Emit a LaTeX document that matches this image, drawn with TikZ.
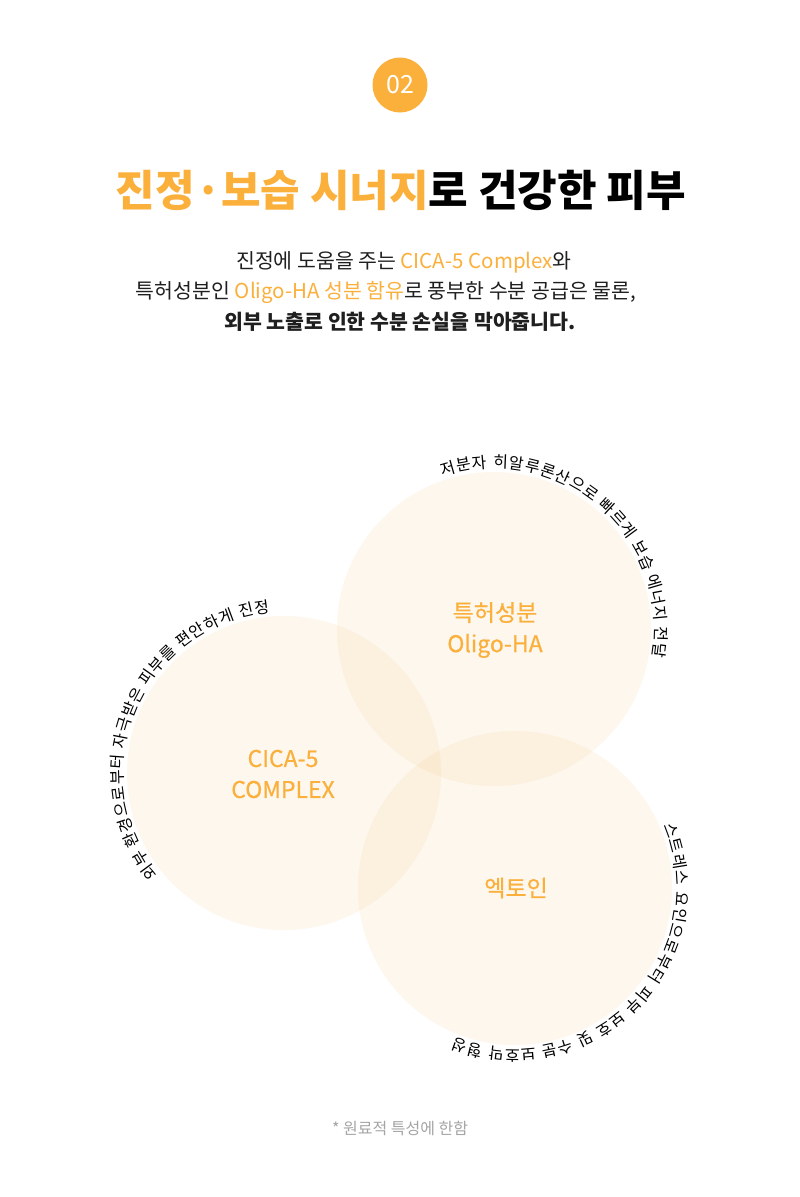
\documentclass[tikz,border=0pt]{standalone}
\usepackage{fontspec}
\setmainfont{Noto Sans CJK KR}
\newfontfamily\tagfont[FakeBold=0.6]{Noto Sans CJK KR}
\usetikzlibrary{positioning, decorations.text}
\definecolor{accent}{RGB}{251,176,59}
\definecolor{blush}{RGB}{248,202,142}
\definecolor{note}{RGB}{165,165,165}
\tikzset{
    blob/.style={circle, fill=blush, fill opacity=0.15, minimum size=314pt, inner sep=0pt},
    badge/.style={circle, fill=accent, minimum size=55pt, inner sep=0pt, text=white, font=\fontsize{25}{25}\selectfont},
    tag/.style={text=accent, align=center, font=\tagfont\fontsize{23}{31}\selectfont},
    body/.style={text=black!88, font=\fontsize{20.5}{22}\selectfont},
    arctext/.style={decorate, decoration={text along path, text align=fit to path, text={|\fontsize{16}{16}\selectfont|#1}}},
}
\begin{document}
\begin{tikzpicture}[x=1pt, y=-1pt]
                    \fill[white] (0,0) rectangle (800,1197);
                    \useasboundingbox (0,0) rectangle (800,1197);
                    \node [badge] (num) at (400,85) {02};
                    \node [font=\bfseries\fontsize{43}{43}\selectfont] (title) at (401,190) {\textcolor{accent}{진정·보습 시너지}로 건강한 피부};
                    \node [body] (line1) at (404,262) {진정에 도움을 주는 \textcolor{accent}{CICA-5 Complex}와};
                    \node [body] (line2) at (386,293) {특허성분인 \textcolor{accent}{Oligo-HA 성분 함유}로 풍부한 수분 공급은 물론,};
                    \node [body, font=\bfseries\fontsize{20.5}{22}\selectfont] (line3) at (400,322) {외부 노출로 인한 수분 손실을 막아줍니다.};
                    \node [blob] (oligo) at (494,629) {};
                    \node [blob] (cica) at (284,773) {};
                    \node [blob] (ecto) at (515,888) {};
                    \node [tag] (oligotag) at (495,630) {특허성분\\Oligo-HA};
                    \node [tag] (cicatag) at (283,774) {CICA-5\\COMPLEX};
                    \node [tag] (ectotag) at (516,888) {엑토인};
                    \path [arctext={저분자 히알루론산으로 빠르게 보습 에너지 전달}] (oligo.center) ++(-108.6:161) arc [start angle=-108.6, end angle=10, radius=161];
                    \path [arctext={외부 환경으로부터 자극받은 피부를 편안하게 진정}] (cica.center) ++(141:161) arc [start angle=141, end angle=265, radius=161];
                    \path [arctext={스트레스 요인으로부터 피부 보호 및 수분 보호막 형성}] (ecto.center) ++(-23:161) arc [start angle=-23, end angle=112, radius=161];
                    \node [text=note, font=\fontsize{16}{16}\selectfont] (footnote) at (400,1128) {* 원료적 특성에 한함};
                \end{tikzpicture}
\end{document}
